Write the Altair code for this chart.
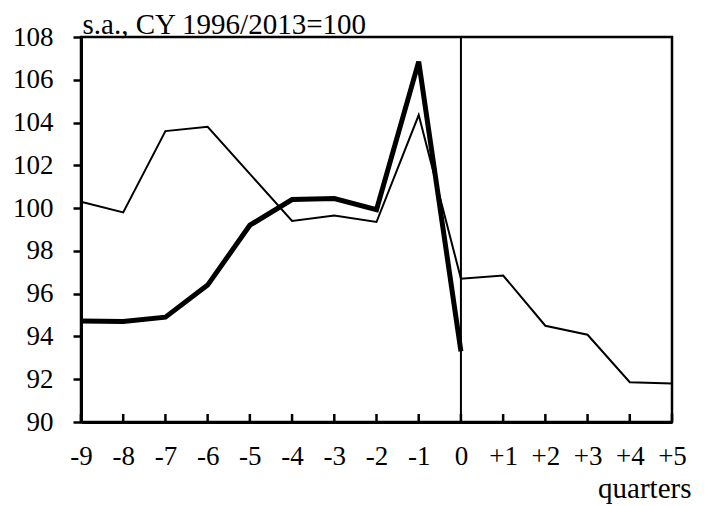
import altair as alt
import pandas as pd

QUARTERS = [-9, -8, -7, -6, -5, -4, -3, -2, -1, 0, 1, 2, 3, 4, 5]
THIN = [100.3, 99.8, 103.6, 103.8, 101.6, 99.4, 99.65, 99.35, 104.35, 96.7, 96.85, 94.5, 94.08, 91.86, 91.8]
THICK_Q = [-9, -8, -7, -6, -5, -4, -3, -2, -1, 0]
THICK = [94.72, 94.7, 94.9, 96.4, 99.2, 100.4, 100.45, 99.93, 106.85, 93.3]
Y_TICKS = [90, 92, 94, 96, 98, 100, 102, 104, 106, 108]
ZERO = [0]

W, H = 591, 385
FONT = "Liberation Serif"

thin_df = pd.DataFrame({"q": QUARTERS, "v": THIN})
thick_df = pd.DataFrame({"q": THICK_Q, "v": THICK})
tick_df = pd.DataFrame({"q": QUARTERS})
zero_df = pd.DataFrame({"q": ZERO})

xs = alt.Scale(domain=[-9, 5], nice=False, zero=False)
ys = alt.Scale(domain=[90, 108], nice=False, zero=False)

x_axis = alt.Axis(
    values=QUARTERS,
    labelExpr="datum.value > 0 ? '+' + datum.value : '' + datum.value",
    ticks=False,
    labelPadding=21,
    labelFlush=False,
    labelFont=FONT,
    labelFontSize=27,
    labelColor="black",
    domainColor="black",
    domainWidth=3,
    title="quarters",
    titleFont=FONT,
    titleFontSize=29,
    titleFontWeight="normal",
    titleColor="black",
    titleX=610,
    titleY=75,
    titleAlign="right",
    titleBaseline="alphabetic",
    grid=False,
)
y_axis = alt.Axis(
    values=Y_TICKS,
    tickSize=8,
    tickWidth=2.5,
    tickColor="black",
    labelPadding=20,
    labelFont=FONT,
    labelFontSize=27,
    labelColor="black",
    domainColor="black",
    domainWidth=3,
    title="s.a., CY 1996/2013=100",
    titleFont=FONT,
    titleFontSize=29,
    titleFontWeight="normal",
    titleColor="black",
    titleAngle=0,
    titleX=1,
    titleY=-4,
    titleAlign="left",
    titleBaseline="alphabetic",
    grid=False,
)

thin = alt.Chart(thin_df).mark_line(color="black", strokeWidth=2).encode(
    x=alt.X("q:Q", scale=xs, axis=x_axis),
    y=alt.Y("v:Q", scale=ys, axis=y_axis),
)
thick = alt.Chart(thick_df).mark_line(color="black", strokeWidth=5).encode(
    x=alt.X("q:Q", scale=xs),
    y=alt.Y("v:Q", scale=ys),
)
zero_line = alt.Chart(zero_df).mark_rule(color="black", strokeWidth=2).encode(
    x=alt.X("q:Q", scale=xs),
    y=alt.value(0),
    y2=alt.value(H),
)
xticks = alt.Chart(tick_df).mark_rule(color="black", strokeWidth=2.5).encode(
    x=alt.X("q:Q", scale=xs),
    y=alt.value(H),
    y2=alt.value(H - 8),
)

chart = alt.layer(zero_line, xticks, thin, thick).properties(
    width=W,
    height=H,
    autosize=alt.AutoSizeParams(type="none"),
    padding={"left": 73, "top": 29, "right": 30, "bottom": 84},
    background="white",
).configure_view(
    stroke="black", strokeWidth=2.5
)

chart.save("out.html", embed_options={"renderer": "svg", "actions": False})
